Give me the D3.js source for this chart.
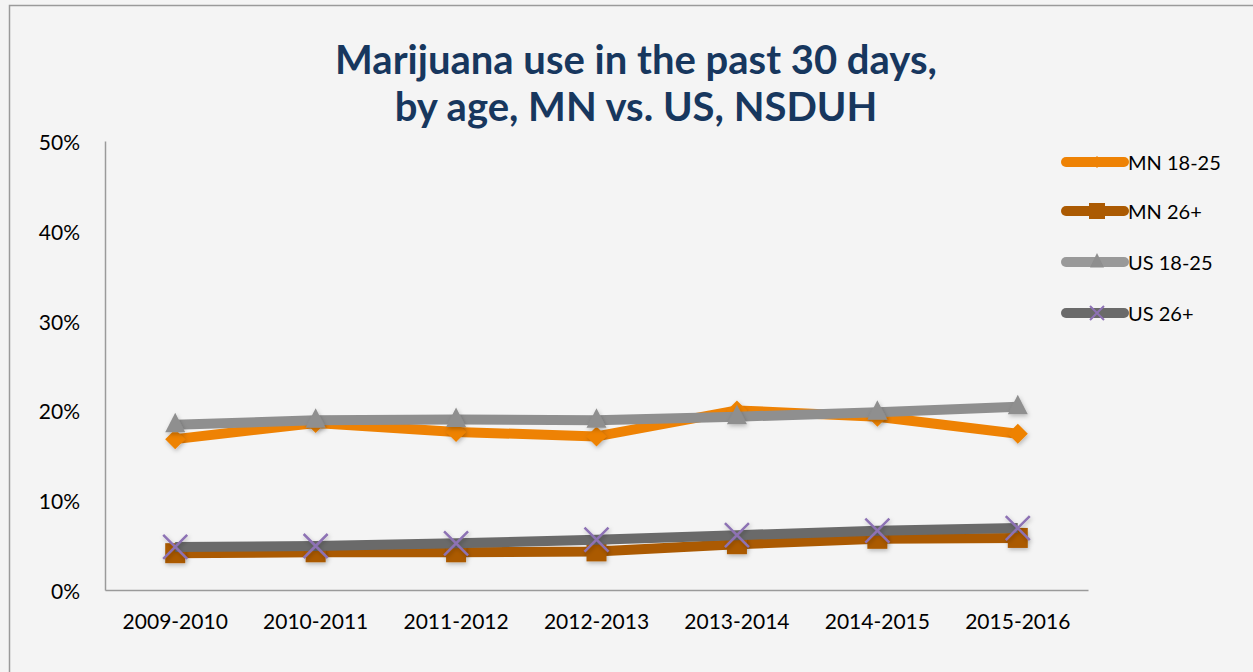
<!DOCTYPE html>
<html><head><meta charset="utf-8">
<script src="https://cdn.jsdelivr.net/npm/d3@7/dist/d3.min.js"></script>
<style>
html,body{margin:0;padding:0;background:#f4f4f4;}
svg{display:block;}
</style></head>
<body>
<svg id="chart" width="1253" height="672"></svg>
<script>
const categories = ["2009-2010","2010-2011","2011-2012","2012-2013","2013-2014","2014-2015","2015-2016"];
const mn1825 = [16.8, 18.6, 17.6, 17.1, 20.0, 19.3, 17.4];
const mn26 = [4.1, 4.2, 4.2, 4.3, 5.1, 5.7, 5.8];
const us1825 = [18.4, 18.9, 19.0, 18.9, 19.3, 19.8, 20.4];
const us26 = [4.8, 4.9, 5.2, 5.6, 6.1, 6.6, 6.9];
const yTicks = [0, 10, 20, 30, 40, 50];
const seriesNames = ["MN 18-25","MN 26+","US 18-25","US 26+"];

const series = [
  {name: seriesNames[0], values: mn1825, color: "#ee8204", marker: "diamond"},
  {name: seriesNames[1], values: mn26, color: "#ab5a02", marker: "square"},
  {name: seriesNames[2], values: us1825, color: "#8f8f8f", marker: "triangle"},
  {name: seriesNames[3], values: us26, color: "#6a6a6a", marker: "x"}
];
// draw order: US lines on top of MN (as in reference)
const drawOrder = [1, 0, 3, 2];

const svg = d3.select("#chart");
const font = "Lato, 'Open Sans', sans-serif";

// outer border (top and left)
svg.append("path").attr("d","M9.5,672 L9.5,5.5 L1253,5.5").attr("fill","none").attr("stroke","#9a9a9a").attr("stroke-width",1.5);

// title
const title = svg.append("text").attr("x",636).attr("text-anchor","middle")
  .attr("font-family",font).attr("font-weight","bold").attr("font-size",40).attr("fill","#17375e");
title.append("tspan").attr("x",636).attr("y",74).text("Marijuana use in the past 30 days,");
title.append("tspan").attr("x",636).attr("y",121).text("by age, MN vs. US, NSDUH");

const pLeft = 105, pRight = 1088, pTop = 141, pBottom = 590;
const x = d3.scaleBand().domain(categories).range([pLeft, pRight]);
const y = d3.scaleLinear().domain([0, 50]).range([pBottom, pTop]);

// axes
const yAxis = svg.append("g").attr("transform",`translate(${pLeft},0)`)
  .call(d3.axisLeft(y).tickValues(yTicks).tickSize(0).tickPadding(25).tickFormat(d => d + "%"));
yAxis.select(".domain").attr("stroke","#9a9a9a").attr("stroke-width",1.5);
yAxis.selectAll("text").attr("font-family",font).attr("font-size",21).attr("fill","#000").attr("dy","0.4em");

const xAxis = svg.append("g").attr("transform",`translate(0,${pBottom})`)
  .call(d3.axisBottom(x).tickSize(0).tickPadding(24));
xAxis.select(".domain").attr("stroke","#9a9a9a").attr("stroke-width",1.5);
xAxis.selectAll("text").attr("font-family",font).attr("font-size",21).attr("fill","#000");

const cx = d => x(d) + x.bandwidth() / 2;

const defs = svg.append("defs");
const f = defs.append("filter").attr("id","sh").attr("x","-50%").attr("y","-50%").attr("width","200%").attr("height","200%");
f.append("feDropShadow").attr("dx",1).attr("dy",2).attr("stdDeviation",2).attr("flood-color","#000").attr("flood-opacity",0.25);

function drawMarker(g, type, color, px, py, s) {
  if (type === "diamond") {
    g.append("path").attr("d", `M${px},${py - s} L${px + s},${py} L${px},${py + s} L${px - s},${py} Z`)
      .attr("fill", color).attr("filter","url(#sh)");
  } else if (type === "square") {
    g.append("rect").attr("x", px - s).attr("y", py - s).attr("width", 2 * s).attr("height", 2 * s)
      .attr("fill", color).attr("filter","url(#sh)");
  } else if (type === "triangle") {
    g.append("path").attr("d", `M${px},${py - s * 1.2} L${px + s},${py + s * 0.75} L${px - s},${py + s * 0.75} Z`)
      .attr("fill", color).attr("filter","url(#sh)");
  } else if (type === "x") {
    g.append("path").attr("d", `M${px - s},${py - s} L${px + s},${py + s} M${px + s},${py - s} L${px - s},${py + s}`)
      .attr("stroke", "#8d72b4").attr("stroke-width", 2.5).attr("fill","none").attr("filter","url(#sh)");
  }
}

const line = d3.line().x((d, i) => cx(categories[i])).y(d => y(d));

drawOrder.forEach(si => {
  const s = series[si];
  const g = svg.append("g");
  g.append("path").datum(s.values).attr("d", line).attr("fill","none")
    .attr("stroke", s.color).attr("stroke-width", 10).attr("stroke-linejoin","round");
  s.values.forEach((v, i) => {
    drawMarker(g, s.marker, s.marker === "x" ? "#8d72b4" : s.color, cx(categories[i]), y(v), s.marker === "x" ? 12 : 10);
  });
});

// legend
const legY = [162, 211, 262, 313];
series.forEach((s, i) => {
  const g = svg.append("g");
  g.append("line").attr("x1", 1066).attr("x2", 1124).attr("y1", legY[i]).attr("y2", legY[i])
    .attr("stroke", s.color === "#8f8f8f" ? "#999" : s.color).attr("stroke-width", 10).attr("stroke-linecap","round");
  const mk = {diamond: 6, square: 8, triangle: 7, x: 7}[s.marker];
  if (s.marker === "x") {
    g.append("path").attr("d", `M${1097 - mk},${legY[i] - mk} L${1097 + mk},${legY[i] + mk} M${1097 + mk},${legY[i] - mk} L${1097 - mk},${legY[i] + mk}`)
      .attr("stroke","#8d72b4").attr("stroke-width",2).attr("fill","none");
  } else if (s.marker === "diamond") {
    g.append("path").attr("d", `M1097,${legY[i] - mk} L${1097 + mk},${legY[i]} L1097,${legY[i] + mk} L${1097 - mk},${legY[i]} Z`).attr("fill", s.color);
  } else if (s.marker === "square") {
    g.append("rect").attr("x", 1097 - mk).attr("y", legY[i] - mk).attr("width", 2 * mk).attr("height", 2 * mk).attr("fill", s.color);
  } else {
    g.append("path").attr("d", `M1097,${legY[i] - mk * 1.3} L${1097 + mk},${legY[i] + mk * 0.8} L${1097 - mk},${legY[i] + mk * 0.8} Z`).attr("fill", s.color);
  }
  g.append("text").attr("x", 1128).attr("y", legY[i]).attr("dy","0.38em")
    .attr("font-family", font).attr("font-size", 20).attr("fill","#000").text(s.name);
});
</script>
</body></html>
